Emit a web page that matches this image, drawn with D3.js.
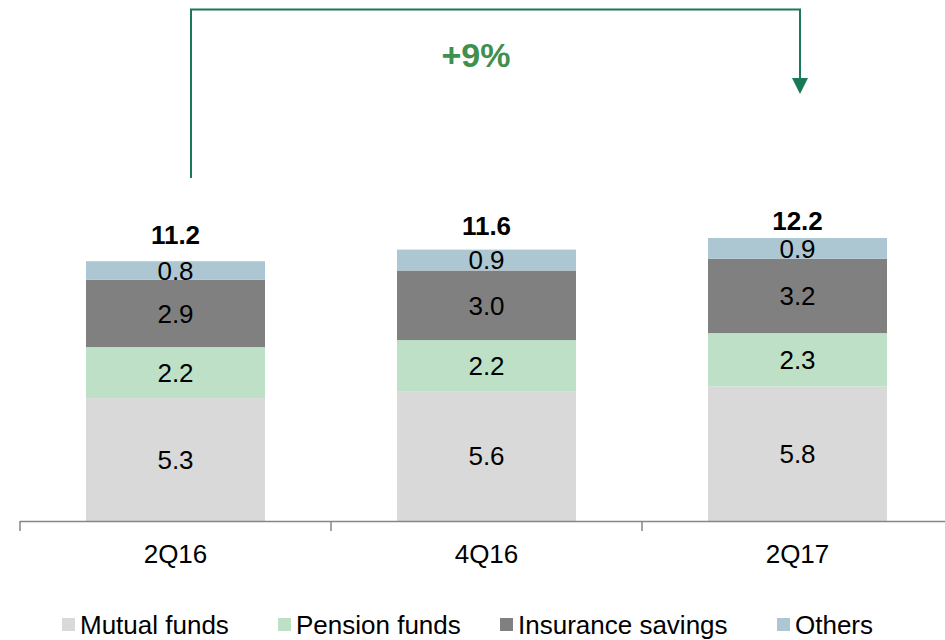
<!DOCTYPE html>
<html>
<head>
<meta charset="utf-8">
<script src="https://cdn.jsdelivr.net/npm/d3@7"></script>
<style>
  body { margin: 0; background: #fff; }
  svg { display: block; font-family: "Liberation Sans", Arial, sans-serif; }
</style>
</head>
<body>
<div id="chart"></div>
<script>
// chart data
var quarters = ["2Q16", "4Q16", "2Q17"];
var seriesNames = ["Mutual funds", "Pension funds", "Insurance savings", "Others"];
var mutualFunds = [5.3, 5.6, 5.8];
var pensionFunds = [2.2, 2.2, 2.3];
var insuranceSavings = [2.9, 3.0, 3.2];
var others = [0.8, 0.9, 0.9];
var totals = [11.2, 11.6, 12.2];
var growthLabel = "+9%";

var colors = ["#d9d9d9", "#bde0c6", "#808080", "#adc7d2"];

var width = 945, height = 640;

var svg = d3.select("#chart").append("svg")
    .attr("width", width)
    .attr("height", height);

// build rows for the stack
var rows = quarters.map(function (q, i) {
    return { q: q, s0: mutualFunds[i], s1: pensionFunds[i], s2: insuranceSavings[i], s3: others[i], total: totals[i] };
});
var keys = ["s0", "s1", "s2", "s3"];
var stacked = d3.stack().keys(keys)(rows);

var x = d3.scaleBand()
    .domain(quarters)
    .range([20, 953])
    .paddingInner(0)
    .paddingOuter(0);

var barW = 179;

var y = d3.scaleLinear()
    .domain([0, 12.2])
    .range([521, 238]);

// bars
var layers = svg.selectAll(".layer")
    .data(stacked)
    .enter().append("g")
    .attr("class", "layer")
    .attr("fill", function (d, i) { return colors[i]; });

layers.selectAll("rect")
    .data(function (d) { return d; })
    .enter().append("rect")
    .attr("x", function (d) { return x(d.data.q) + (x.bandwidth() - barW) / 2; })
    .attr("width", barW)
    .attr("y", function (d) { return y(d[1]); })
    .attr("height", function (d) { return y(d[0]) - y(d[1]); });

// segment labels
layers.selectAll("text")
    .data(function (d) { return d.map(function (p) { p.key = d.key; return p; }); })
    .enter().append("text")
    .attr("x", function (d) { return x(d.data.q) + x.bandwidth() / 2; })
    .attr("y", function (d) { return (y(d[0]) + y(d[1])) / 2; })
    .attr("dy", "0.36em")
    .attr("text-anchor", "middle")
    .attr("fill", "#000")
    .style("font-size", "26px")
    .text(function (d) { return d3.format(".1f")(d.data[d.key]); });

// totals (label sits above the bar, kept inside a band)
svg.selectAll(".total")
    .data(rows)
    .enter().append("text")
    .attr("class", "total")
    .attr("x", function (d) { return x(d.q) + x.bandwidth() / 2; })
    .attr("y", function (d) { return Math.max(Math.min(y(d.total) - 17, 245), 230); })
    .attr("text-anchor", "middle")
    .style("font-size", "26px")
    .style("font-weight", "bold")
    .text(function (d) { return d3.format(".1f")(d.total); });

// axis
svg.append("line")
    .attr("x1", 20).attr("x2", width)
    .attr("y1", 521.5).attr("y2", 521.5)
    .attr("stroke", "#868686").attr("stroke-width", 1.5);

svg.selectAll(".tick-mark")
    .data(quarters)
    .enter().append("line")
    .attr("class", "tick-mark")
    .attr("x1", function (d) { return x(d); })
    .attr("x2", function (d) { return x(d); })
    .attr("y1", 521).attr("y2", 531)
    .attr("stroke", "#868686").attr("stroke-width", 1.5);

svg.selectAll(".cat-label")
    .data(quarters)
    .enter().append("text")
    .attr("class", "cat-label")
    .attr("x", function (d) { return x(d) + x.bandwidth() / 2; })
    .attr("y", 563)
    .attr("text-anchor", "middle")
    .style("font-size", "26px")
    .text(function (d) { return d; });

// growth bracket
var green = "#1a7a55";
var xa = x(quarters[0]) + x.bandwidth() / 2 + 15.5;
var xb = x(quarters[2]) + x.bandwidth() / 2 + 2.5;
svg.append("path")
    .attr("d", "M" + xa + ",178 V9.5 H" + xb + " V80")
    .attr("fill", "none")
    .attr("stroke", green)
    .attr("stroke-width", 2);
svg.append("path")
    .attr("d", "M" + (xb - 8) + ",78 L" + (xb + 8) + ",78 L" + xb + ",94 Z")
    .attr("fill", green);
svg.append("text")
    .attr("x", 476)
    .attr("y", 67)
    .attr("text-anchor", "middle")
    .attr("fill", "#3f8f4f")
    .style("font-size", "34px")
    .style("font-weight", "bold")
    .text(growthLabel);

// legend
var legendX = [62, 278, 500, 777];
var legend = svg.selectAll(".legend")
    .data(seriesNames)
    .enter().append("g")
    .attr("class", "legend")
    .attr("transform", function (d, i) { return "translate(" + legendX[i] + ",625)"; });
legend.append("rect")
    .attr("x", 0).attr("y", -7)
    .attr("width", 13).attr("height", 13)
    .attr("fill", function (d, i) { return colors[i]; });
legend.append("text")
    .attr("x", 18)
    .attr("dy", "0.36em")
    .style("font-size", "26px")
    .text(function (d) { return d; });
</script>
</body>
</html>
